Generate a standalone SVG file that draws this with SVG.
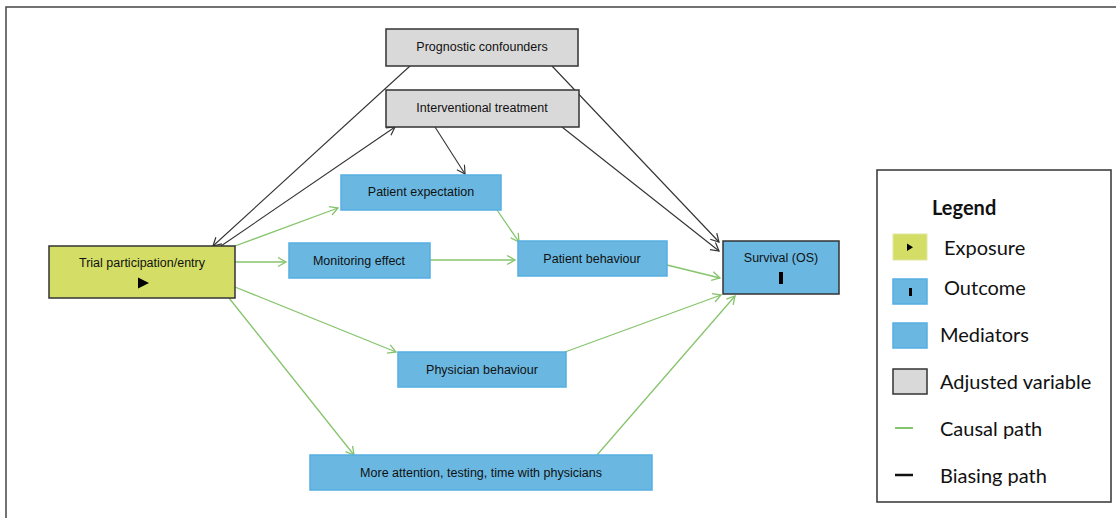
<svg xmlns="http://www.w3.org/2000/svg" width="1116" height="518" viewBox="0 0 1116 518">
<style>
.t{font-family:"Liberation Sans",Arial,sans-serif;font-size:12.5px;fill:#111;text-anchor:middle;dominant-baseline:central}
.lg{font-family:Lato,"Liberation Sans",sans-serif;font-size:20px;fill:#111;dominant-baseline:central}
.adj{fill:#d9d9d9;stroke:#333;stroke-width:1.5}
.med{fill:#6ab8e2;stroke:#55aee2;stroke-width:1.5}
.exp{fill:#d4de67;stroke:#333;stroke-width:1.5}
.out{fill:#6ab8e2;stroke:#333;stroke-width:1.5}
.g{stroke:#86c46c;stroke-width:1.3;fill:none}
.b{stroke:#333;stroke-width:1.1;fill:none}
</style>
<defs>
<marker id="ag" markerUnits="userSpaceOnUse" markerWidth="12" markerHeight="12" refX="9" refY="5" orient="auto"><path d="M1,0.5 L9,5 L1,9.5" fill="none" stroke="#86c46c" stroke-width="1.3"/></marker>
<marker id="ab" markerUnits="userSpaceOnUse" markerWidth="12" markerHeight="12" refX="9" refY="5" orient="auto"><path d="M1,0.5 L9,5 L1,9.5" fill="none" stroke="#333" stroke-width="1.2"/></marker>
</defs>
<rect width="1116" height="518" fill="#fff"/>
<path d="M6,518 V7 H1116" fill="none" stroke="#444" stroke-width="1.5"/>

<g id="connectors">
<line class="g" x1="235" y1="246" x2="338" y2="208" marker-end="url(#ag)"/>
<line class="g" x1="235" y1="262" x2="286" y2="262" marker-end="url(#ag)"/>
<line class="g" x1="235" y1="287" x2="396" y2="352" marker-end="url(#ag)"/>
<line class="g" x1="229" y1="298" x2="354" y2="455" marker-end="url(#ag)"/>
<line class="g" x1="497" y1="210" x2="519" y2="242" marker-end="url(#ag)"/>
<line class="g" x1="430" y1="260" x2="515" y2="260" marker-end="url(#ag)"/>
<line class="g" x1="667" y1="265" x2="720" y2="278" marker-end="url(#ag)"/>
<line class="g" x1="565" y1="352" x2="721" y2="295" marker-end="url(#ag)"/>
<line class="g" x1="597" y1="455" x2="735" y2="296" marker-end="url(#ag)"/>
<line class="b" x1="410" y1="66" x2="213" y2="246" marker-end="url(#ab)"/>
<line class="b" x1="221" y1="246" x2="395" y2="127" marker-end="url(#ab)"/>
<line class="b" x1="435" y1="127" x2="465" y2="174" marker-end="url(#ab)"/>
<line class="b" x1="552" y1="66" x2="719" y2="242" marker-end="url(#ab)"/>
<line class="b" x1="562" y1="127" x2="719" y2="251" marker-end="url(#ab)"/>
</g>

<g id="prognostic"><rect class="adj" x="386" y="29" width="192" height="37"/><text class="t" x="482" y="47">Prognostic confounders</text></g>
<g id="interventional"><rect class="adj" x="386" y="90" width="193" height="37"/><text class="t" x="482" y="108">Interventional treatment</text></g>
<g id="expectation"><rect class="med" x="341" y="175" width="160" height="35"/><text class="t" x="421" y="192">Patient expectation</text></g>
<g id="trial"><rect class="exp" x="49" y="246" width="186" height="52"/><text class="t" x="142" y="263">Trial participation/entry</text><polygon points="138,277.5 138,288.5 149,283" fill="#000"/></g>
<g id="monitoring"><rect class="med" x="289" y="243" width="141" height="35"/><text class="t" x="359" y="260.5">Monitoring effect</text></g>
<g id="patientbehaviour"><rect class="med" x="518" y="241" width="149" height="35"/><text class="t" x="592" y="258.5">Patient behaviour</text></g>
<g id="survival"><rect class="out" x="723" y="241" width="116" height="53"/><text class="t" x="781" y="258">Survival (OS)</text><rect x="779" y="272" width="4" height="12" fill="#000"/></g>
<g id="physician"><rect class="med" x="398" y="352" width="168" height="35"/><text class="t" x="482" y="369.5">Physician behaviour</text></g>
<g id="attention"><rect class="med" x="310" y="455" width="342" height="35"/><text class="t" x="481" y="472.5">More attention, testing, time with physicians</text></g>

<g id="legend">
<rect x="877" y="170" width="234" height="332" fill="#fff" stroke="#333" stroke-width="1.5"/>
<text class="lg" x="932" y="207" font-weight="bold">Legend</text>
<rect x="893" y="234" width="34" height="26" fill="#d4de67" stroke="#dfe7a0" stroke-width="1"/>
<polygon points="907,243.5 907,251 913,247.2" fill="#000"/>
<text class="lg" x="944" y="247">Exposure</text>
<rect x="893" y="279" width="34" height="25" class="med"/>
<rect x="909" y="288" width="3" height="8" fill="#000"/>
<text class="lg" x="944" y="287">Outcome</text>
<rect x="893" y="323" width="34" height="25" class="med"/>
<text class="lg" x="940" y="334">Mediators</text>
<rect x="893" y="369" width="34" height="25" class="adj"/>
<text class="lg" x="940" y="381">Adjusted variable</text>
<line x1="895" y1="428" x2="913" y2="428" stroke="#86c46c" stroke-width="2"/>
<text class="lg" x="940" y="428">Causal path</text>
<line x1="895" y1="475" x2="913" y2="475" stroke="#111" stroke-width="2.5"/>
<text class="lg" x="940" y="475">Biasing path</text>
</g>
</svg>
